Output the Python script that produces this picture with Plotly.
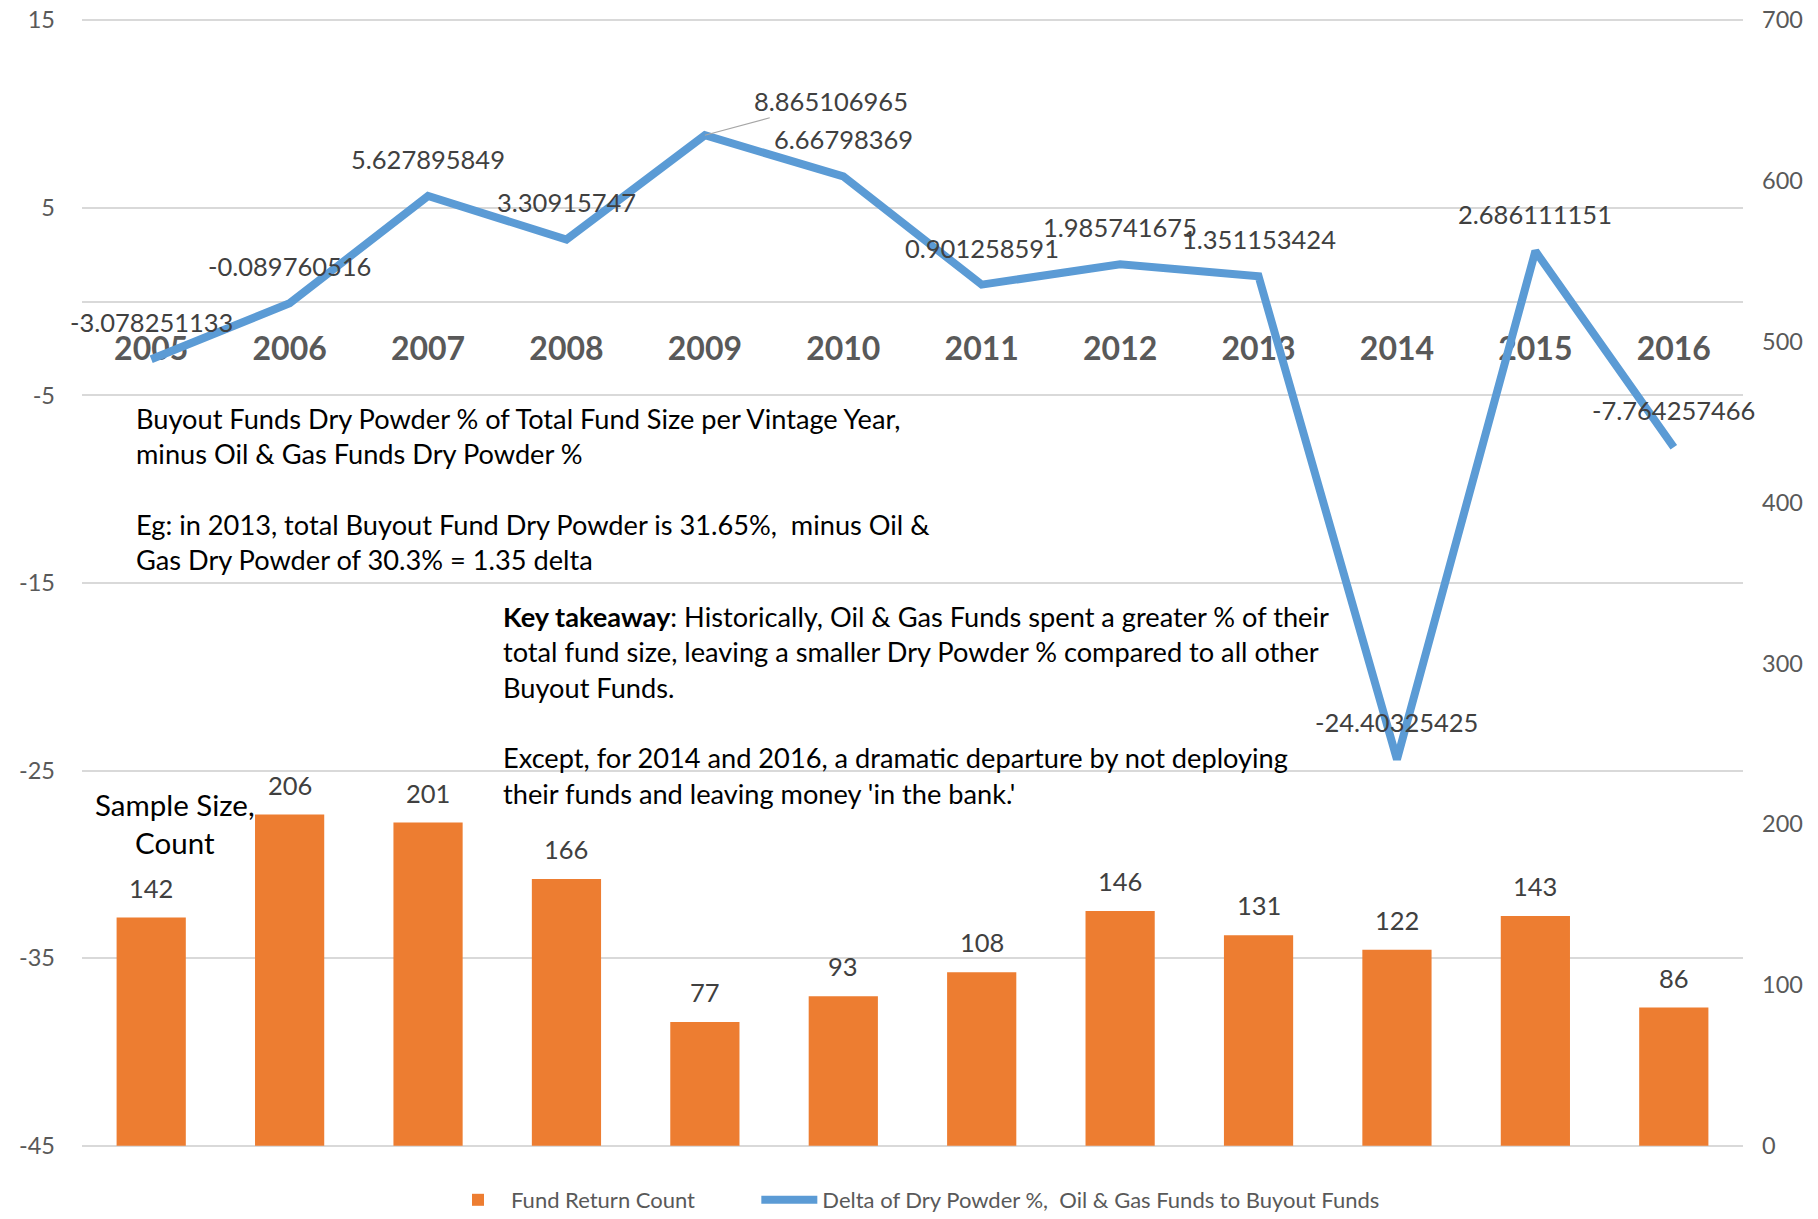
import plotly.graph_objects as go

years = ["2005", "2006", "2007", "2008", "2009", "2010", "2011", "2012", "2013", "2014", "2015", "2016"]
delta_dry_powder = [-3.078251133, -0.089760516, 5.627895849, 3.30915747, 8.865106965, 6.66798369,
                    0.901258591, 1.985741675, 1.351153424, -24.40325425, 2.686111151, -7.764257466]
fund_return_count = [142, 206, 201, 166, 77, 93, 108, 146, 131, 122, 143, 86]
left_ticks = [-45, -35, -25, -15, -5, 5, 15]
right_ticks = [0, 100, 200, 300, 400, 500, 600, 700]

FONT = "Lato"
# page body has an 8px margin; compensate so plot area lands at page px 82..1743 x 19..1147
OFF = 8
W, H = 1818 - OFF, 1219 - OFF
L, R, T, B = 82 - OFF, 75, 19 - OFF, 72

# tiny padding so the edge gridlines (15 / -45) are drawn
PAD = 0.06
left_range = [left_ticks[0] - PAD, left_ticks[-1] + PAD]
span_l = left_ticks[-1] - left_ticks[0]
span_r = right_ticks[-1] - right_ticks[0]
right_range = [right_ticks[0] - PAD * span_r / span_l, right_ticks[-1] + PAD * span_r / span_l]

NBSP = "\u00a0"
fig = go.Figure()
fig.add_trace(go.Bar(
    x=years, y=fund_return_count, name="Fund Return Count" + NBSP * 10, yaxis="y2",
    marker=dict(color="#ED7D31", line=dict(width=0)),
))
fig.add_trace(go.Scatter(
    x=years, y=delta_dry_powder, name="Delta of Dry Powder %,  Oil & Gas Funds to Buyout Funds",
    mode="lines", line=dict(color="#5B9BD5", width=8), yaxis="y",
))

annotations = []
label_font = dict(family=FONT, size=25.5, color="#404040")
for i, (yr, v) in enumerate(zip(years, delta_dry_powder)):
    if yr == "2009":
        annotations.append(dict(x=i, y=v, xref="x", yref="y", text=str(v), showarrow=True,
                                ax=126, ay=-34, arrowhead=0, arrowwidth=1.2, arrowcolor="#A6A6A6",
                                font=label_font))
    else:
        annotations.append(dict(x=i, y=v, xref="x", yref="y", text=str(v), showarrow=False,
                                yshift=37, xanchor="center", yanchor="middle", font=label_font))
for i, c in enumerate(fund_return_count):
    annotations.append(dict(x=i, y=c, xref="x", yref="y2", text=str(c), showarrow=False,
                            yshift=30, xanchor="center", yanchor="middle", font=label_font))

pw = W - L - R
ph = H - T - B
def px(x):
    return (x - OFF - L) / pw
def py(y):
    return (H - B - (y - OFF)) / ph

annotations.append(dict(
    xref="paper", yref="paper", x=px(134), y=py(400), xanchor="left", yanchor="top", showarrow=False,
    align="left",
    text=("Buyout Funds Dry Powder % of Total Fund Size per Vintage Year,<br>"
          "minus Oil &amp; Gas Funds Dry Powder %<br><br>"
          "Eg: in 2013, total Buyout Fund Dry Powder is 31.65%,  minus Oil &amp;<br>"
          "Gas Dry Powder of 30.3% = 1.35 delta"),
    font=dict(family=FONT, size=27.2, color="#000000"),
))
annotations.append(dict(
    xref="paper", yref="paper", x=px(501), y=py(598), xanchor="left", yanchor="top", showarrow=False,
    align="left",
    text=("<b>Key takeaway</b>: Historically, Oil &amp; Gas Funds spent a greater % of their<br>"
          "total fund size, leaving a smaller Dry Powder % compared to all other<br>"
          "Buyout Funds.<br><br>"
          "Except, for 2014 and 2016, a dramatic departure by not deploying<br>"
          "their funds and leaving money 'in the bank.'"),
    font=dict(family=FONT, size=27.2, color="#000000"),
))
annotations.append(dict(
    xref="paper", yref="paper", x=px(175), y=py(785), xanchor="center", yanchor="top", showarrow=False,
    align="center", text="Sample Size,<br>Count",
    font=dict(family=FONT, size=29.5, color="#000000"),
))

fig.update_layout(
    width=W, height=H, margin=dict(l=L, r=R, t=T, b=B, autoexpand=False),
    paper_bgcolor="white", plot_bgcolor="white",
    font=dict(family=FONT, color="#595959"),
    bargap=0.5,
    xaxis=dict(type="category", categoryorder="array", categoryarray=years, range=[-0.5, len(years) - 0.5],
               anchor="free", position=(0 - left_range[0]) / (left_range[1] - left_range[0]),
               showline=True, linecolor="#D9D9D9",
               linewidth=1.5, ticks="", showgrid=False, layer="below traces",
               tickfont=dict(family=FONT, size=32, color="#595959", weight="bold"),
               ticklabelstandoff=19),
    yaxis=dict(range=left_range, tickvals=left_ticks, ticktext=[str(v) for v in left_ticks],
               showgrid=True, gridcolor="#D9D9D9", gridwidth=1.5, ticklabeloverflow="allow",
               zeroline=False, showline=False, ticks="", tickfont=dict(family=FONT, size=23.5, color="#595959"),
               ticklabelstandoff=26),
    yaxis2=dict(range=right_range, tickvals=right_ticks, ticktext=[str(v) for v in right_ticks],
                overlaying="y", side="right", showgrid=False, ticklabeloverflow="allow",
                zeroline=False, showline=False, ticks="", tickfont=dict(family=FONT, size=23.5, color="#595959"),
                ticklabelstandoff=18),
    legend=dict(orientation="h", x=px(445), xanchor="left", y=py(1200), yanchor="middle",
                font=dict(family=FONT, size=22, color="#595959"), traceorder="normal", itemwidth=56),
    annotations=annotations,
)

fig.write_html("out.html")
